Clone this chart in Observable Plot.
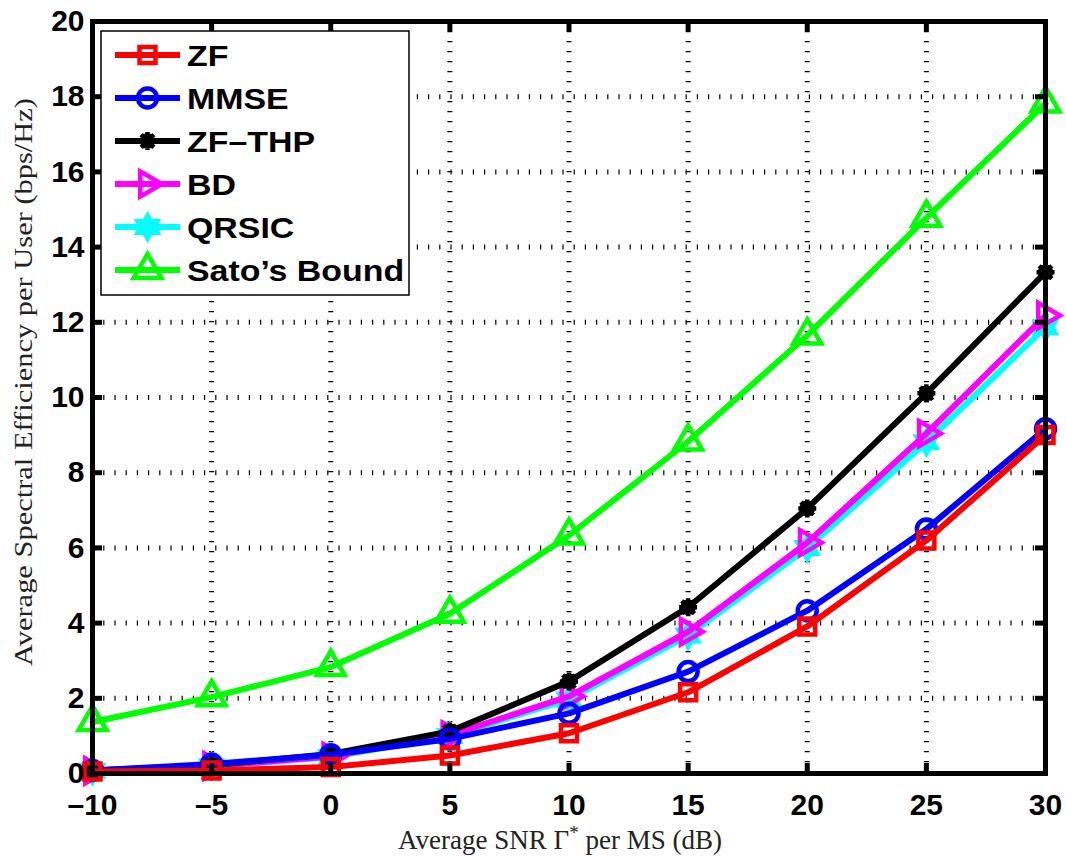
<!DOCTYPE html>
<html><head><meta charset="utf-8">
<script src="https://cdn.jsdelivr.net/npm/d3@7"></script>
<script src="https://cdn.jsdelivr.net/npm/@observablehq/plot@0.6"></script>
<style>
body{margin:0;background:#fff}
#chart{width:1066px;height:856px}
</style>
</head><body><div id="chart"></div>
<script>
// ---- data ----
const snr   = [-10, -5, 0, 5, 10, 15, 20, 25, 30];
const zf    = [0.05, 0.08, 0.17, 0.48, 1.07, 2.16, 3.91, 6.2, 9.0];
const mmse  = [0.08, 0.25, 0.5, 0.92, 1.6, 2.71, 4.33, 6.5, 9.17];
const zfthp = [0.08, 0.22, 0.52, 1.12, 2.45, 4.42, 7.05, 10.11, 13.33];
const bd    = [0.07, 0.2, 0.45, 1.02, 2.05, 3.77, 6.14, 9.04, 12.18];
const qrsic = [0.07, 0.19, 0.43, 1.0, 1.97, 3.67, 6.0, 8.81, 11.87];
const sato  = [1.37, 2.03, 2.83, 4.25, 6.33, 8.83, 11.65, 14.78, 17.82];
const seriesNames  = ["ZF", "MMSE", "ZF\u2013THP", "BD", "QRSIC", "Sato\u2019s Bound"];
const seriesValues = [zf, mmse, zfthp, bd, qrsic, sato];
const seriesColors = ["#ff0000", "#0000ff", "#000000", "#ff00ff", "#00ffff", "#00ff00"];
const xTicks = [-10, -5, 0, 5, 10, 15, 20, 25, 30];
const yTicks = [0, 2, 4, 6, 8, 10, 12, 14, 16, 18, 20];
const xLabel = ["Average SNR \u0393", "*", " per MS (dB)"];
const yLabel = "Average Spectral Efficiency per User (bps/Hz)";

// ---- marker symbols (MATLAB-like) ----
const rad = s => Math.sqrt(s / Math.PI);
const symSquare = {draw(c, s){ const r = rad(s); c.rect(-r, -r, 2*r, 2*r); }};
const symCircle = {draw(c, s){ const r = rad(s); c.moveTo(r, 0); c.arc(0, 0, r, 0, 2*Math.PI); }};
const symAster = {draw(c, s){ const r = rad(s);
  for (let k = 0; k < 4; k++){ const a = k*Math.PI/4; c.moveTo(r*Math.cos(a), r*Math.sin(a)); c.lineTo(-r*Math.cos(a), -r*Math.sin(a)); }
  const q = r*0.62; c.moveTo(q,0); c.arc(0,0,q,0,2*Math.PI); }};
const symTriRight = {draw(c, s){ const r = rad(s);
  c.moveTo(r, 0); c.lineTo(-0.5*r, 0.866*r); c.lineTo(-0.5*r, -0.866*r); c.closePath(); }};
const symTriUp = {draw(c, s){ const r = rad(s);
  c.moveTo(0, -r); c.lineTo(0.866*r, 0.5*r); c.lineTo(-0.866*r, 0.5*r); c.closePath(); }};
const symHexagram = {draw(c, s){ const R = rad(s), ri = R/Math.sqrt(3);
  for (let k = 0; k < 12; k++){ const a = -Math.PI/2 + k*Math.PI/6, rr = k%2 ? ri : R;
    const x = rr*Math.cos(a), y = rr*Math.sin(a); k ? c.lineTo(x, y) : c.moveTo(x, y); }
  c.closePath(); }};
const seriesSymbols = [symSquare, symCircle, symAster, symTriRight, symHexagram, symTriUp];
const seriesR       = [8, 9.5, 9, 14.5, 13, 16];
const seriesFill    = ["none", "none", "#000000", "none", "#00ffff", "none"];
const seriesSW      = [4.5, 4.5, 4.5, 4.5, 3, 4.5];

const plotW = 1066, plotH = 856, mL = 92, mR = 21, mT = 21, mB = 83;
const innerW = plotW - mL - mR, innerH = plotH - mT - mB;

const marks = [
  Plot.gridX(xTicks, {stroke: "#000", strokeOpacity: 1, strokeWidth: 5, strokeDasharray: "1.2,8.8"}),
  Plot.gridY(yTicks.slice(1, -1), {stroke: "#000", strokeOpacity: 1, strokeWidth: 5, strokeDasharray: "1.2,10"}),
];
const drawOrder = [5, 4, 3, 2, 1, 0];
for (const i of drawOrder) {
  const rows = snr.map((x, j) => ({x, y: seriesValues[i][j]}));
  marks.push(Plot.line(rows, {x: "x", y: "y", stroke: seriesColors[i], strokeWidth: 6, strokeLinejoin: "round"}));
  marks.push(Plot.dot(rows, {x: "x", y: "y", symbol: seriesSymbols[i], r: seriesR[i],
    stroke: seriesColors[i], fill: seriesFill[i], strokeWidth: seriesSW[i], strokeLinejoin: "miter"}));
}
marks.push(
  Plot.tickX(xTicks, {x: d => d, stroke: "#000", strokeWidth: 5, insetTop: innerH - 10}),
  Plot.tickX(xTicks, {x: d => d, stroke: "#000", strokeWidth: 5, insetBottom: innerH - 10}),
  Plot.tickY(yTicks, {y: d => d, stroke: "#000", strokeWidth: 5, insetLeft: innerW - 10}),
  Plot.tickY(yTicks, {y: d => d, stroke: "#000", strokeWidth: 5, insetRight: innerW - 10}),
  Plot.frame({stroke: "#000", strokeWidth: 5}),
  Plot.axisX(xTicks, {tickSize: 0, tickPadding: 20, label: null, fontSize: 30, fontWeight: "bold",
    tickFormat: d => d < 0 ? "\u2013" + (-d) : String(d)}),
  Plot.axisY(yTicks, {tickSize: 0, tickPadding: 8, label: null, fontSize: 30, fontWeight: "bold"})
);

const chart = Plot.plot({
  width: plotW, height: plotH, marginLeft: mL, marginRight: mR, marginTop: mT, marginBottom: mB,
  x: {domain: [-10, 30]},
  y: {domain: [0, 20]},
  style: {fontFamily: "'Liberation Sans', Arial, sans-serif", color: "#000", background: "#fff", overflow: "visible"},
  marks
});
document.getElementById("chart").appendChild(chart);

const svg = d3.select(chart);
// axis labels
const xl = svg.append("text").attr("x", 560).attr("y", 849).attr("text-anchor", "middle")
  .attr("font-family", "'Liberation Serif', 'Times New Roman', serif").attr("font-size", 27).attr("fill", "#222");
xl.append("tspan").text(xLabel[0]);
xl.append("tspan").attr("dy", -10).attr("font-size", 19).text(xLabel[1]);
xl.append("tspan").attr("dy", 10).text(xLabel[2]);
svg.append("text").attr("transform", "translate(32,382) rotate(-90)").attr("text-anchor", "middle")
  .attr("font-family", "'Liberation Serif', 'Times New Roman', serif").attr("font-size", 25.5).attr("fill", "#222")
  .attr("textLength", 568).attr("lengthAdjust", "spacingAndGlyphs")
  .text(yLabel);

// legend
const lg = svg.append("g").attr("text-anchor", "start");
lg.append("rect").attr("x", 101).attr("y", 31).attr("width", 308).attr("height", 264)
  .attr("fill", "#fff").attr("stroke", "#000").attr("stroke-width", 1.5);
seriesNames.forEach((name, i) => {
  const cy = 55 + i * 43;
  const g = lg.append("g");
  g.append("line").attr("x1", 115).attr("x2", 180).attr("y1", cy).attr("y2", cy)
    .attr("stroke", seriesColors[i]).attr("stroke-width", 6);
  g.append("path").attr("transform", `translate(147.5,${cy})`)
    .attr("d", d3.symbol(seriesSymbols[i], Math.PI * seriesR[i] * seriesR[i])())
    .attr("stroke", seriesColors[i]).attr("fill", seriesFill[i]).attr("stroke-width", seriesSW[i]);
  g.append("text").attr("transform", `translate(187,${cy}) scale(1.13,1)`).attr("dy", "0.36em").attr("text-anchor", "start")
    .attr("font-family", "'Liberation Sans', Arial, sans-serif").attr("font-weight", "bold").attr("font-size", 30)
    .attr("fill", "#000").text(name);
});
</script>
</body></html>
